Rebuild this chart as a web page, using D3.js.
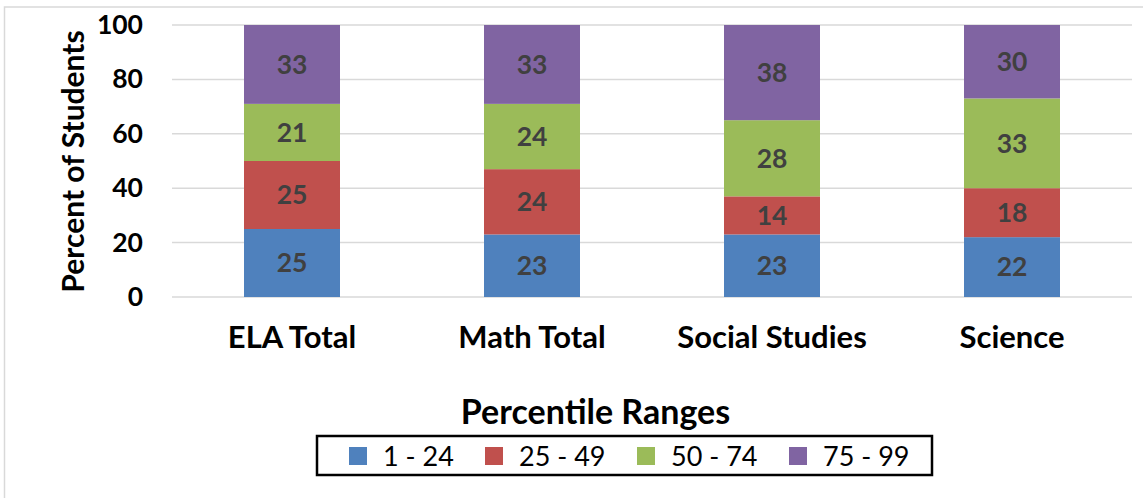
<!DOCTYPE html>
<html>
<head>
<meta charset="utf-8">
<script src="https://cdn.jsdelivr.net/npm/d3@7"></script>
<style>
  body { margin: 0; background: #fff; }
  svg { display: block; font-family: Lato, "Open Sans", sans-serif; }
</style>
</head>
<body>
<svg id="chart" width="1143" height="498"></svg>
<script>
// subjects along the x axis
const subjects = ["ELA Total", "Math Total", "Social Studies", "Science"];
// percentile range series (bottom to top)
const ranges = ["1 - 24", "25 - 49", "50 - 74", "75 - 99"];
const range1to24 = [25, 23, 23, 22];
const range25to49 = [25, 24, 14, 18];
const range50to74 = [21, 24, 28, 33];
const range75to99 = [33, 33, 38, 30];
const yTicks = [0, 20, 40, 60, 80, 100];
const colors = ["#4F81BD", "#C0504D", "#9BBB59", "#8064A2"];

const series = [range1to24, range25to49, range50to74, range75to99];

const svg = d3.select("#chart");

// light chart border (only top/left show in the frame)
svg.append("rect")
  .attr("x", 4.5).attr("y", 7)
  .attr("width", 1200).attr("height", 600)
  .attr("fill", "none").attr("stroke", "#D9D9D9").attr("stroke-width", 1.5);

const plotLeft = 172, plotRight = 1132, plotTop = 25, plotBottom = 297;

const x = d3.scaleBand().domain(subjects).range([plotLeft, plotRight]).paddingInner(0.6).paddingOuter(0.3);
const y = d3.scaleLinear().domain([0, 100]).range([plotBottom, plotTop]);

// gridlines
svg.append("g")
  .selectAll("line")
  .data(yTicks)
  .join("line")
  .attr("x1", plotLeft).attr("x2", plotRight)
  .attr("y1", d => y(d)).attr("y2", d => y(d))
  .attr("stroke", "#D9D9D9").attr("stroke-width", 1.5);

// y axis labels
const yAxis = svg.append("g")
  .attr("transform", `translate(${plotLeft}, 0)`)
  .call(d3.axisLeft(y).tickValues(yTicks).tickSize(0).tickPadding(29));
yAxis.select(".domain").remove();
yAxis.selectAll("text")
  .attr("font-family", "Lato, sans-serif")
  .attr("font-size", 26.5).attr("font-weight", "bold").attr("fill", "#000");

svg.append("text")
  .attr("transform", `translate(73, 161.5) rotate(-90)`)
  .attr("text-anchor", "middle")
  .attr("dy", "0.35em")
  .attr("font-size", 30).attr("font-weight", "bold")
  .text("Percent of Students");

// stacked bars, clipped to the 100 line
svg.append("clipPath").attr("id", "plotClip")
  .append("rect").attr("x", plotLeft).attr("y", plotTop)
  .attr("width", plotRight - plotLeft).attr("height", plotBottom - plotTop);

const stackData = subjects.map((s, i) => {
  const row = { subject: s };
  ranges.forEach((r, k) => row[r] = series[k][i]);
  return row;
});
const stacked = d3.stack().keys(ranges)(stackData);

const layers = svg.append("g").attr("clip-path", "url(#plotClip)")
  .selectAll("g")
  .data(stacked)
  .join("g")
  .attr("fill", (d, i) => colors[i]);

layers.selectAll("rect")
  .data(d => d)
  .join("rect")
  .attr("x", d => x(d.data.subject))
  .attr("width", x.bandwidth())
  .attr("y", d => y(d[1]))
  .attr("height", d => y(d[0]) - y(d[1]));

// value labels centred in the visible part of each segment
svg.append("g")
  .selectAll("g")
  .data(stacked)
  .join("g")
  .selectAll("text")
  .data(d => d.map(v => ({ v, key: d.key })))
  .join("text")
  .attr("x", d => x(d.v.data.subject) + x.bandwidth() / 2)
  .attr("y", d => y((d.v[0] + Math.min(d.v[1], 100)) / 2))
  .attr("dy", "0.35em")
  .attr("text-anchor", "middle")
  .attr("font-size", 26.5).attr("font-weight", "bold").attr("fill", "#404040")
  .text(d => d.v.data[d.key]);

// category labels
svg.append("g")
  .selectAll("text")
  .data(subjects)
  .join("text")
  .attr("x", d => x(d) + x.bandwidth() / 2)
  .attr("y", 348)
  .attr("text-anchor", "middle")
  .attr("font-size", 31).attr("font-weight", "bold")
  .text(d => d);

// legend
svg.append("text")
  .attr("x", 595.5).attr("y", 424)
  .attr("text-anchor", "middle")
  .attr("font-size", 34).attr("font-weight", "bold")
  .text("Percentile Ranges");

svg.append("rect")
  .attr("x", 317).attr("y", 436).attr("width", 615).attr("height", 39)
  .attr("fill", "none").attr("stroke", "#000").attr("stroke-width", 2.5);

const legendX = [349, 485, 637, 789];
const items = svg.append("g").selectAll("g")
  .data(ranges)
  .join("g")
  .attr("transform", (d, i) => `translate(${legendX[i]}, 447)`);
items.append("rect").attr("width", 18).attr("height", 18).attr("fill", (d, i) => colors[i]);
items.append("text")
  .attr("x", 34).attr("y", 9).attr("dy", "0.36em")
  .attr("font-size", 27)
  .text(d => d);
</script>
</body>
</html>
